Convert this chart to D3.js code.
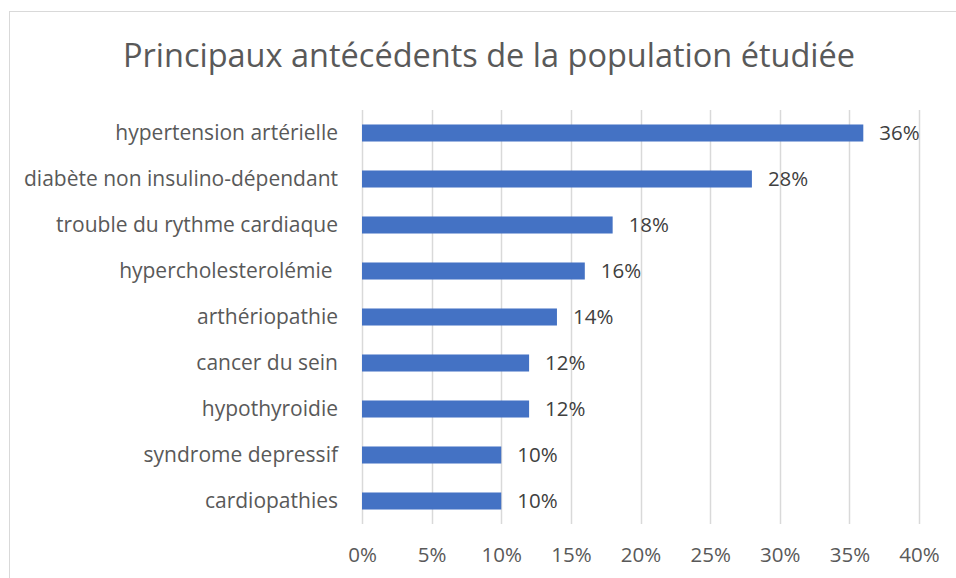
<!DOCTYPE html>
<html>
<head>
<meta charset="utf-8">
<script src="https://cdn.jsdelivr.net/npm/d3@7"></script>
<style>
  html, body { margin: 0; padding: 0; background: #fff; }
  svg { display: block; font-family: "Open Sans", sans-serif; }
  svg text { white-space: pre; }
</style>
</head>
<body>
<div id="viz"></div>
<script>
const WIDTH = 956;
const HEIGHT = 578;

const TITLE = 'Principaux antécédents de la population étudiée';
// Top to bottom, as drawn.
const categories = [
  'hypertension artérielle',
  'diabète non insulino-dépendant',
  'trouble du rythme cardiaque',
  'hypercholesterolémie ',
  'arthériopathie',
  'cancer du sein',
  'hypothyroidie',
  'syndrome depressif',
  'cardiopathies',
];
const values = [0.36, 0.28, 0.18, 0.16, 0.14, 0.12, 0.12, 0.10, 0.10];
const xTicks = [0, 0.05, 0.1, 0.15, 0.2, 0.25, 0.3, 0.35, 0.4];

const plot = { left: 362, right: 919, top: 110, bottom: 524 };

const svg = d3.select('#viz')
  .append('svg')
  .attr('width', WIDTH)
  .attr('height', HEIGHT);

svg.append('rect')
  .attr('width', WIDTH)
  .attr('height', HEIGHT)
  .attr('fill', '#fff');

// chart frame (right and bottom edges fall outside the window)
svg.append('rect')
  .attr('x', 9.5)
  .attr('y', 11.5)
  .attr('width', WIDTH + 10)
  .attr('height', HEIGHT + 10)
  .attr('fill', 'none')
  .attr('stroke', '#d9d9d9')
  .attr('stroke-width', 1);

svg.append('text')
  .attr('x', 489)
  .attr('y', 67)
  .attr('text-anchor', 'middle')
  .attr('font-size', 32.5)
  .attr('fill', '#595959')
  .text(TITLE);

const x = d3.scaleLinear().domain([0, 0.4]).range([plot.left, plot.right]);
const y = d3.scaleBand()
  .domain(categories)
  .range([plot.top, plot.bottom])
  .paddingInner(0.63)
  .paddingOuter(0.315);

// vertical gridlines
svg.append('g')
  .selectAll('line')
  .data(xTicks)
  .join('line')
  .attr('x1', (d) => Math.round(x(d)) + 0.5)
  .attr('x2', (d) => Math.round(x(d)) + 0.5)
  .attr('y1', plot.top)
  .attr('y2', plot.bottom)
  .attr('stroke', '#d9d9d9')
  .attr('stroke-width', 1.5);

// x tick labels
const xAxis = d3.axisBottom(x)
  .tickValues(xTicks)
  .tickFormat(d3.format('.0%'))
  .tickSize(0)
  .tickPadding(0);

const gx = svg.append('g')
  .attr('transform', `translate(0,${plot.bottom})`)
  .call(xAxis);
gx.select('.domain').remove();
gx.selectAll('text')
  .attr('dy', null)
  .attr('y', 38)
  .attr('font-family', '"Open Sans", sans-serif')
  .attr('font-size', 20.5)
  .attr('fill', '#595959');

// category labels
const yAxis = d3.axisLeft(y).tickSize(0).tickPadding(24);
const gy = svg.append('g')
  .attr('transform', `translate(${plot.left},0)`)
  .call(yAxis);
gy.select('.domain').remove();
gy.selectAll('text')
  .attr('font-family', '"Open Sans", sans-serif')
  .attr('font-size', 21)
  .attr('fill', '#595959');

// bars
const rows = categories.map((c, i) => ({ cat: c, value: values[i] }));

svg.append('g')
  .selectAll('rect')
  .data(rows)
  .join('rect')
  .attr('x', x(0))
  .attr('y', (d) => y(d.cat))
  .attr('width', (d) => x(d.value) - x(0))
  .attr('height', y.bandwidth())
  .attr('fill', '#4472c4');

// data labels
svg.append('g')
  .selectAll('text')
  .data(rows)
  .join('text')
  .attr('x', (d) => x(d.value) + 16)
  .attr('y', (d) => y(d.cat) + y.bandwidth() / 2)
  .attr('dy', '0.35em')
  .attr('font-size', 20.5)
  .attr('fill', '#404040')
  .text((d) => d3.format('.0%')(d.value));
</script>
</body>
</html>
